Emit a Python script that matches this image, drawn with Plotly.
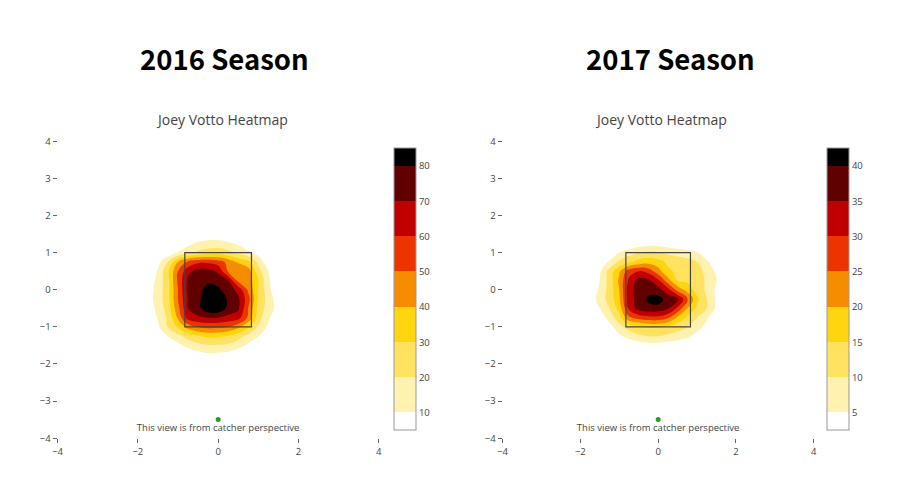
import plotly.graph_objects as go

# pitch-location density grid (feet from centre of zone)
grid_x = [-1.75, -1.5, -1.25, -1.0, -0.75, -0.5, -0.25, 0.0, 0.25, 0.5, 0.75, 1.0, 1.25, 1.5, 1.75]
grid_y = [1.5, 1.25, 1.0, 0.75, 0.5, 0.25, 0.0, -0.25, -0.5, -0.75, -1.0, -1.25, -1.5, -1.75, -2.0]

# rows go top (y=1.5) to bottom (y=-2.0)
z_2016 = [
    [0, 0, 0, 0, 0, 0, 2, 2, 0, 0, 0, 0, 0, 0, 0],
    [0, 0, 0, 1, 7, 12, 14, 14, 12, 8, 2, 0, 0, 0, 0],
    [0, 0, 2, 11, 17, 22, 25, 26, 23, 18, 12, 6, 0, 0, 0],
    [0, 6, 20, 40, 52, 58, 58, 55, 47, 39, 33, 17, 3, 0, 0],
    [1, 11, 28, 50, 67, 74, 74, 68, 49, 46, 45, 24, 10, 0, 0],
    [3, 13, 27, 52, 72, 76, 78, 76, 70, 47, 46, 30, 12, 0, 0],
    [5, 14, 27, 50, 73, 76, 84, 82, 75, 67, 48, 30, 13, 1, 0],
    [6, 14, 27, 50, 71, 77, 88, 90, 78, 72, 54, 29, 16, 4, 0],
    [4, 13, 25, 47, 70, 77, 87, 88, 77, 72, 50, 27, 15, 6, 0],
    [1, 11, 22, 42, 64, 68, 70, 70, 67, 64, 48, 24, 12, 1, 0],
    [0, 8, 21, 31, 44, 51, 53, 52, 50, 43, 31, 19, 8, 0, 0],
    [0, 3, 10, 17, 24, 29, 32, 32, 29, 24, 17, 10, 2, 0, 0],
    [0, 0, 1, 7, 13, 17, 19, 19, 18, 14, 8, 1, 0, 0, 0],
    [0, 0, 0, 0, 2, 6, 8, 7, 6, 2, 0, 0, 0, 0, 0],
    [0, 0, 0, 0, 0, 0, 0, 0, 0, 0, 0, 0, 0, 0, 0],
]

z_2017 = [
    [0, 0, 0, 0, 0, 0, 0, 0, 0, 0, 0, 0, 0, 0, 0],
    [0, 0, 0, 0, 0, 2, 3, 3, 2, 1, 0, 0, 0, 0, 0],
    [0, 0, 0, 5, 8, 10, 11, 10.5, 9, 8, 7, 5.5, 1, 0, 0],
    [0, 1, 6, 11, 14, 17, 18, 17, 14, 13, 12, 10, 6, 1, 0],
    [0, 4, 12, 19, 28, 30, 28, 22, 16, 14, 13.5, 12.5, 8, 4, 0],
    [0, 5, 12, 21, 31, 37, 36, 31, 22, 15, 14, 13, 9, 5, 0],
    [0, 6, 12, 20, 33, 37, 38, 37, 32, 23, 18, 13, 9, 4, 0],
    [2, 7, 12, 19, 33, 37, 41, 42, 38, 35.5, 26, 16, 10, 4, 0],
    [0, 5, 10, 17, 31, 37, 38.5, 38.5, 35.5, 29, 20, 14, 10, 4, 0],
    [0, 2, 7, 13, 24, 27, 28.5, 28.5, 26, 19, 14, 10, 6, 0, 0],
    [0, 0, 3, 8, 12, 14, 15.5, 15.5, 14, 12, 10, 7, 3, 0, 0],
    [0, 0, 1, 4, 7, 9, 10, 10, 9, 8, 6, 3, 0, 0, 0],
    [0, 0, 0, 0, 0, 2, 3, 3, 2, 1, 0, 0, 0, 0, 0],
    [0, 0, 0, 0, 0, 0, 0, 0, 0, 0, 0, 0, 0, 0, 0],
    [0, 0, 0, 0, 0, 0, 0, 0, 0, 0, 0, 0, 0, 0, 0],
]

seasons = ["2016 Season", "2017 Season"]
chart_title = "Joey Votto Heatmap"
note = "This view is from catcher perspective"
zone_x = [-0.83, 0.83]
zone_y = [-1.0, 1.0]
levels = [dict(start=10, end=80, size=10), dict(start=5, end=40, size=5)]
x_ticks = [-4, -2, 0, 2, 4]
y_ticks = [-4, -3, -2, -1, 0, 1, 2, 3, 4]

band_colors = ["rgb(255,255,255)", "rgb(255,241,175)", "rgb(255,227,96)", "rgb(255,213,16)",
               "rgb(246,140,0)", "rgb(236,52,0)", "rgb(192,0,0)", "rgb(96,0,0)", "rgb(0,0,0)"]
colorscale = [[i / (len(band_colors) - 1), c] for i, c in enumerate(band_colors)]

# page body has an 8px margin, so the figure is laid out in page pixels minus 8
OFF = 8
W, H = 900 - OFF, 486 - OFF


def px_x(p):
    return (p - OFF) / W


def px_y(p):
    return (H - (p - OFF)) / H


x_domains = [[px_x(53), px_x(377)], [px_x(502), px_x(816)]]
y_domain = [px_y(443), px_y(138)]
cbar_x = [px_x(392), px_x(829)]
title_x = [px_x(219), px_x(662)]
season_x = [px_x(221), px_x(671)]

fig = go.Figure()

for i, z in enumerate([z_2016, z_2017]):
    xa = "x" if i == 0 else "x2"
    ya = "y" if i == 0 else "y2"
    fig.add_trace(go.Contour(
        x=grid_x, y=grid_y[::-1], z=z[::-1],
        colorscale=colorscale,
        autocontour=False, contours=levels[i],
        line=dict(width=0, smoothing=1.3),
        colorbar=dict(x=cbar_x[i], xanchor="left", y=px_y(290), yanchor="middle",
                      len=290 / H, thickness=22, xpad=0, ypad=0,
                      outlinecolor="#999", outlinewidth=1,
                      tick0=levels[i]["start"], dtick=levels[i]["size"],
                      tickfont=dict(size=9.5, color="#444")),
        xaxis=xa, yaxis=ya, hoverinfo="skip",
    ))
    # home plate marker with the perspective note
    fig.add_trace(go.Scatter(
        x=[0], y=[-3.5], mode="markers+text", text=[note],
        textposition="bottom center", textfont=dict(size=9.5, color="#444"),
        marker=dict(color="#22a022", size=5), showlegend=False,
        xaxis=xa, yaxis=ya, hoverinfo="skip",
    ))
    fig.add_shape(type="rect", xref=xa, yref=ya,
                  x0=zone_x[0], x1=zone_x[1], y0=zone_y[0], y1=zone_y[1],
                  line=dict(color="#444", width=1.2))
    fig.add_annotation(text=chart_title, x=title_x[i], y=px_y(115),
                       xref="paper", yref="paper", xanchor="center", yanchor="middle",
                       showarrow=False, font=dict(size=14, color="#444"))
    fig.add_annotation(text="<b>%s</b>" % seasons[i], x=season_x[i], y=px_y(52),
                       xref="paper", yref="paper", xanchor="center", yanchor="middle",
                       showarrow=False,
                       font=dict(size=27.5, color="black", family="Noto Sans CJK KR"))

axis_style = dict(range=[-4, 4], showgrid=False, zeroline=False, showline=False,
                  ticks="outside", ticklen=4, tickcolor="#666",
                  tickfont=dict(size=9.5, color="#444"))

fig.update_layout(
    width=W, height=H,
    margin=dict(l=0, r=0, t=0, b=0),
    paper_bgcolor="white", plot_bgcolor="white",
    showlegend=False,
    xaxis=dict(domain=x_domains[0], anchor="y", tickvals=x_ticks, **axis_style),
    yaxis=dict(domain=y_domain, anchor="x", tickvals=y_ticks, **axis_style),
    xaxis2=dict(domain=x_domains[1], anchor="y2", tickvals=x_ticks, **axis_style),
    yaxis2=dict(domain=y_domain, anchor="x2", tickvals=y_ticks, **axis_style),
)

fig.write_html("out.html")
